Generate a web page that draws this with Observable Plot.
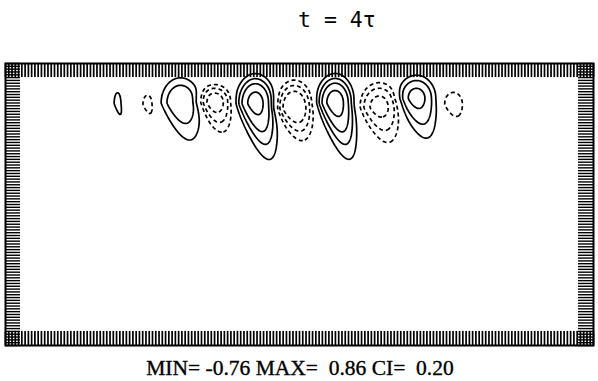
<!DOCTYPE html>
<html>
<head>
<meta charset="utf-8">
<script src="https://cdn.jsdelivr.net/npm/d3@7"></script>
<script src="https://cdn.jsdelivr.net/npm/@observablehq/plot@0.6"></script>
<style>
  html, body { margin: 0; padding: 0; background: #fff; }
  #wrap { position: relative; width: 598px; height: 381px; overflow: hidden; }
  #title { position: absolute; top: 7px; left: 298px; text-align: left;
           font-family: "DejaVu Sans Mono", monospace; font-size: 21.5px; color: #000; white-space: pre; }
  #chart { position: absolute; top: 55px; left: 0; }
  #caption { position: absolute; top: 356px; left: 0; width: 600px; text-align: center;
             font-family: "Liberation Serif", "Times New Roman", serif; font-size: 21.5px; color: #000;
             white-space: pre; -webkit-text-stroke: 0.35px #000; }
</style>
</head>
<body>
<div id="wrap">
  <div id="title">t = 4τ</div>
  <div id="chart"></div>
  <div id="caption">MIN= -0.76 MAX=  0.86 CI=  0.20</div>
</div>
<script>
// Domain of the section (horizontal distance, depth)
const xDomain = [0, 180];
const yDomain = [0, 100];

// Grid tick positions drawn along the frame
const xTicks = d3.range(0, 181, 1);
const yTicks = d3.range(0, 101, 1);

// Contour levels (CI = 0.20)
const posLevels = [0.2, 0.4, 0.6, 0.8];
const negLevels = [0.2, 0.4, 0.6]; // applied to the negated field

// Cells: centre, extreme value, half-widths
const cellX    = [34.3, 43.5, 53.6, 64.0, 76.5, 88.4, 100.9, 114.4, 125.8, 137.1];
const cellY    = [14.2, 14.5, 14.0, 13.8, 14.2, 16.0, 14.0, 15.6, 12.4, 14.5];
const cellAmp  = [0.29, -0.28, 0.53, -0.68, 0.84, -0.76, 0.86, -0.65, 0.64, -0.30];
const cellRx   = [1.4, 1.95, 6.0, 4.9, 5.6, 5.4, 5.4, 5.8, 5.7, 3.6];
const cellRyUp = [5.1, 4.5, 9.0, 6.0, 9.6, 9.3, 9.4, 8.4, 7.9, 5.5];
const cellRyDn = [6.3, 5.5, 13.3, 9.6, 16.7, 9.9, 16.7, 11.5, 13.1, 6.6];

const shear = 0.21, vexp = 0.6, pexp = 3.5;
function field(x, y) {
  let f = 0;
  for (let i = 0; i < cellX.length; i++) {
    const dy = y - cellY[i];
    const dx = x - cellX[i] - shear * Math.max(dy, 0);
    const u = dx / cellRx[i];
    const v = dy < 0 ? dy / cellRyUp[i] : Math.pow(dy / cellRyDn[i], vexp);
    const r = Math.sqrt(u * u + v * v);
    f += cellAmp[i] * Math.exp(-Math.pow(r, pexp));
  }
  return f;
}

const plot = Plot.plot({
  width: 598,
  height: 295,
  marginTop: 8,
  marginBottom: 5,
  marginLeft: 5,
  marginRight: 5,
  x: {domain: xDomain, axis: null},
  y: {domain: yDomain, reverse: true, axis: null},
  marks: [
    Plot.contour({
      x1: xDomain[0], x2: xDomain[1], y1: yDomain[0], y2: yDomain[1],
      pixelSize: 1,
      value: (x, y) => field(x, y),
      thresholds: posLevels,
      fill: "none", stroke: "black", strokeWidth: 1.7
    }),
    Plot.contour({
      x1: xDomain[0], x2: xDomain[1], y1: yDomain[0], y2: yDomain[1],
      pixelSize: 1,
      value: (x, y) => -field(x, y),
      thresholds: negLevels,
      fill: "none", stroke: "black", strokeWidth: 1.7, strokeDasharray: "4,3"
    }),
    Plot.ruleX(xTicks, {x: d => d, y1: 0, y2: 5, stroke: "black", strokeWidth: 1.7}),
    Plot.ruleX(xTicks, {x: d => d, y1: 95, y2: 100, stroke: "black", strokeWidth: 1.7}),
    Plot.ruleY(yTicks, {y: d => d, x1: 0, x2: 4.6, stroke: "black", strokeWidth: 1.4}),
    Plot.ruleY(yTicks, {y: d => d, x1: 175.4, x2: 180, stroke: "black", strokeWidth: 1.4}),
    Plot.frame({stroke: "black", strokeWidth: 2})
  ]
});
document.getElementById("chart").appendChild(plot);
</script>
</body>
</html>
